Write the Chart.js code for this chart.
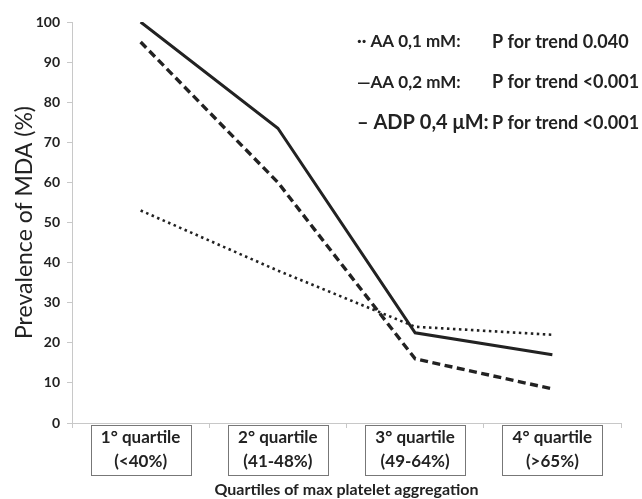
<!DOCTYPE html>
<html>
<head>
<meta charset="utf-8">
<script src="https://cdn.jsdelivr.net/npm/chart.js@4.4.1/dist/chart.umd.min.js"></script>
<style>
  html, body { margin: 0; padding: 0; background: #fff; }
  #wrap { width: 642px; height: 499px; }
</style>
</head>
<body>
<div id="wrap"><canvas id="chart" width="642" height="499"></canvas></div>
<script>
const categories = [
  ['1° quartile', '(<40%)'],
  ['2° quartile', '(41-48%)'],
  ['3° quartile', '(49-64%)'],
  ['4° quartile', '(>65%)'],
];
const aa01 = [53, 38, 24, 22];
const aa02 = [100, 73.5, 22.5, 17];
const adp04 = [95, 60, 16, 8.5];
const noteNames = ['·· AA 0,1 mM:', '—AA 0,2 mM:', '– ADP 0,4 μM:'];
const noteTrends = ['P for trend 0.040', 'P for trend <0.001', 'P for trend <0.001'];

const FONT = 'Lato, "Open Sans", sans-serif';
const INK = '#222';

// boxes around the category labels
const boxedLabels = {
  id: 'boxedLabels',
  afterDraw(chart) {
    const { ctx } = chart;
    const x = chart.scales.x;
    ctx.save();
    ctx.strokeStyle = '#777';
    ctx.lineWidth = 1;
    x.ticks.forEach((t, i) => {
      const cx = x.getPixelForTick(i);
      ctx.strokeRect(Math.round(cx - 50) + 0.5, 425.5, 100, 50);
    });
    ctx.restore();
  },
};

// the p-for-trend notes in the upper right
const trendNotes = {
  id: 'trendNotes',
  afterDraw(chart) {
    const { ctx } = chart;
    const nameSizes = [17, 17, 20];
    ctx.save();
    ctx.fillStyle = INK;
    ctx.textBaseline = 'middle';
    noteNames.forEach((name, i) => {
      const y = 42 + i * 40.5;
      ctx.font = `bold ${nameSizes[i]}px ${FONT}`;
      ctx.fillText(name, 357, y);
      ctx.font = `bold 18px ${FONT}`;
      ctx.fillText(noteTrends[i], 492, y);
    });
    ctx.restore();
  },
};

const line = (data, dash, width) => ({
  data,
  borderColor: INK,
  borderWidth: width,
  borderDash: dash,
  borderCapStyle: 'butt',
  pointRadius: 0,
  tension: 0,
  fill: false,
});

new Chart(document.getElementById('chart'), {
  type: 'line',
  data: {
    labels: categories,
    datasets: [
      line(aa01, [2.5, 3.5], 2.6),
      line(aa02, [], 3),
      line(adp04, [8, 4.5], 3.4),
    ],
  },
  options: {
    responsive: false,
    animation: false,
    layout: { padding: { left: 0, right: 21, top: 22, bottom: 0 } },
    plugins: { legend: { display: false }, tooltip: { enabled: false } },
    scales: {
      x: {
        offset: true,
        afterFit: (s) => { s.height = 76; },
        border: { color: '#c8c8c8', width: 1 },
        grid: { offset: true, drawOnChartArea: false, tickLength: 5, color: '#c8c8c8' },
        ticks: {
          color: INK,
          padding: -2,
          maxRotation: 0,
          font: { family: FONT, size: 17, weight: 'bold', lineHeight: 1.4 },
        },
        title: {
          display: true,
          text: 'Quartiles of max platelet aggregation',
          color: INK,
          padding: { top: 0, bottom: 0 },
          font: { family: FONT, size: 16, weight: 'bold' },
        },
      },
      y: {
        min: 0,
        max: 100,
        afterFit: (s) => { s.width = 72; },
        border: { color: '#c8c8c8', width: 1 },
        grid: { drawOnChartArea: false, tickLength: 5, color: '#c8c8c8' },
        ticks: {
          stepSize: 10,
          color: INK,
          padding: 7,
          font: { family: FONT, size: 14, weight: 'bold' },
        },
        title: {
          display: true,
          text: 'Prevalence of MDA (%)',
          color: INK,
          padding: { top: 11, bottom: 0 },
          font: { family: FONT, size: 23 },
        },
      },
    },
  },
  plugins: [boxedLabels, trendNotes],
});
</script>
</body>
</html>
